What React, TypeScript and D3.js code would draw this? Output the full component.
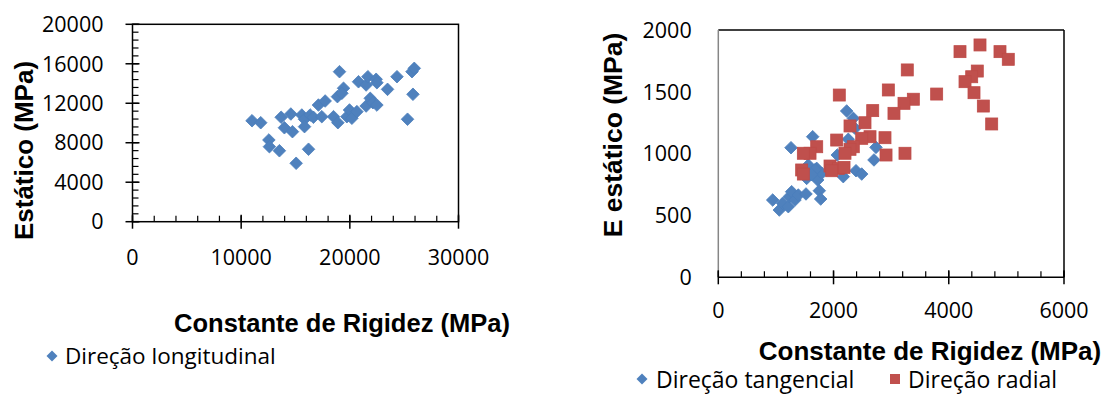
import React from "react";
import * as d3 from "d3";

// Direção longitudinal: [Constante de Rigidez, E estático] (MPa)
const longX = [11000, 11800, 13680, 12550, 12600, 13520, 13980, 14720, 14570, 15060, 15580, 15830, 15830, 16200, 16350, 16650, 17110, 17730, 17420, 18500, 19050, 18860, 19420, 19270, 18900, 19730, 19970, 20190, 20650, 20800, 21500, 21660, 21500, 21880, 22120, 22420, 22490, 22490, 23470, 24340, 25310, 25810, 25720, 25930];
const longY = [10230, 10030, 10580, 8280, 7600, 7190, 9520, 9120, 10910, 5920, 10810, 10380, 9630, 7340, 10810, 10580, 11820, 12230, 10640, 10640, 15200, 12670, 13520, 13010, 10030, 10640, 11320, 10480, 11150, 14180, 13850, 14690, 11720, 12500, 12060, 14430, 14080, 11820, 13410, 14690, 10380, 12910, 15200, 15540];

// Direção tangencial
const tangX = [944, 1059, 1117, 1215, 1232, 1273, 1331, 1389, 1522, 1262, 1638, 1534, 1562, 1708, 1725, 1753, 1777, 1795, 2228, 2343, 2372, 2256, 2065, 2169, 2390, 2489, 2737, 2702, 1680, 1620];
const tangY = [625, 544, 598, 571, 652, 692, 625, 665, 674, 1048, 1137, 800, 908, 881, 787, 700, 633, 841, 1345, 1286, 1205, 1116, 989, 814, 862, 835, 1051, 949, 870, 830];

// Direção radial
const radX = [2100, 4195, 4542, 4889, 5033, 3280, 4495, 4398, 4282, 4438, 4600, 4745, 3790, 2951, 3385, 3223, 3049, 2680, 2546, 2286, 2633, 2489, 2893, 2055, 2343, 2286, 2199, 1708, 1592, 1476, 2911, 3240, 1447, 1476, 1939, 2083, 2182, 1968];
const radY = [1474, 1825, 1879, 1825, 1763, 1677, 1668, 1622, 1582, 1493, 1385, 1240, 1482, 1515, 1440, 1407, 1326, 1348, 1250, 1224, 1137, 1124, 1129, 1110, 1056, 1035, 1003, 1056, 1003, 1003, 989, 1003, 868, 835, 900, 881, 889, 862];

const leftXTicks = [0, 10000, 20000, 30000];
const leftYTicks = [0, 4000, 8000, 12000, 16000, 20000];
const rightXTicks = [0, 2000, 4000, 6000];
const rightYTicks = [0, 500, 1000, 1500, 2000];

const BLUE = "#4F81BD";
const RED = "#C0504D";
const NUM_FONT = "'Open Sans', sans-serif";
const BOLD_FONT = "'Liberation Sans', Arial, sans-serif";

const diamondPath = (cx: number, cy: number, r: number) =>
  `M${cx},${cy - r}L${cx + r},${cy}L${cx},${cy + r}L${cx - r},${cy}Z`;

export default function App() {
  // left panel scales
  const xL = d3.scaleLinear().domain([0, 30000]).range([132.5, 458.5]);
  const yL = d3.scaleLinear().domain([0, 20000]).range([221.7, 24.3]);
  // right panel scales
  const xR = d3.scaleLinear().domain([0, 6000]).range([718.3, 1064]);
  const yR = d3.scaleLinear().domain([0, 2000]).range([277.3, 30]);

  const leftXMinor = d3.range(0, 30001, 2000);
  const leftYMinor = d3.range(0, 20001, 800);
  const rightXMinor = d3.range(0, 6001, 400);

  return (
    <svg
      width={1109}
      height={401}
      style={{ position: "absolute", left: 0, top: 0, background: "#fff" }}
    >
      {/* ---------- left panel ---------- */}
      <g>
        <rect
          x={xL(0)}
          y={yL(20000)}
          width={xL(30000) - xL(0)}
          height={yL(0) - yL(20000)}
          fill="none"
          stroke="#000"
          strokeWidth={1.5}
        />
        {leftYMinor.map((v) => (
          <line key={"lym" + v} x1={xL(0)} x2={xL(0) + 6} y1={yL(v)} y2={yL(v)} stroke="#000" strokeWidth={1.2} />
        ))}
        {leftYTicks.map((v) => (
          <line key={"lyM" + v} x1={xL(0) - 7} x2={xL(0) + 7} y1={yL(v)} y2={yL(v)} stroke="#000" strokeWidth={1.5} />
        ))}
        {leftXMinor.map((v) => (
          <line key={"lxm" + v} x1={xL(v)} x2={xL(v)} y1={yL(0)} y2={yL(0) - 6} stroke="#000" strokeWidth={1.2} />
        ))}
        {leftXTicks.map((v) => (
          <line key={"lxM" + v} x1={xL(v)} x2={xL(v)} y1={yL(0) - 7} y2={yL(0) + 7} stroke="#000" strokeWidth={1.5} />
        ))}
        {leftYTicks.map((v) => (
          <text key={"lyt" + v} x={103.5} y={yL(v)} dy="0.36em" textAnchor="end" fontFamily={NUM_FONT} fontSize={21.5} fill="#000">
            {v}
          </text>
        ))}
        {leftXTicks.map((v) => (
          <text key={"lxt" + v} x={xL(v)} y={265} textAnchor="middle" fontFamily={NUM_FONT} fontSize={21.5} fill="#000">
            {v}
          </text>
        ))}
        {longX.map((x, i) => (
          <path key={"lp" + i} d={diamondPath(xL(x), yL(longY[i]), 6.3)} fill={BLUE} stroke="#4A7EBB" strokeWidth={0.8} />
        ))}
        <text
          transform="translate(33,150.5) rotate(-90)"
          textAnchor="middle"
          fontFamily={BOLD_FONT}
          fontWeight="bold"
          fontSize={26}
          fill="#000"
        >
          Estático (MPa)
        </text>
        <text x={342} y={332} textAnchor="middle" fontFamily={BOLD_FONT} fontWeight="bold" fontSize={25.5} fill="#000">
          Constante de Rigidez (MPa)
        </text>
        <path d={diamondPath(52, 356, 5.5)} fill={BLUE} />
        <text x={65} y={363.5} fontFamily={NUM_FONT} fontSize={22.5} fill="#000">
          Direção longitudinal
        </text>
      </g>

      {/* ---------- right panel ---------- */}
      <g>
        <line x1={xR(0)} x2={xR(6000)} y1={yR(2000)} y2={yR(2000)} stroke="#000" strokeWidth={1.5} />
        <line x1={xR(6000)} x2={xR(6000)} y1={yR(2000)} y2={yR(0)} stroke="#000" strokeWidth={1.5} />
        <line x1={xR(0)} x2={xR(0)} y1={yR(2000)} y2={yR(0)} stroke="#868686" strokeWidth={1.5} />
        <line x1={xR(0)} x2={xR(6000)} y1={yR(0)} y2={yR(0)} stroke="#000" strokeWidth={1.5} />
        {rightXMinor.map((v) => (
          <line key={"rxm" + v} x1={xR(v)} x2={xR(v)} y1={yR(0)} y2={yR(0) - 6} stroke="#000" strokeWidth={1.2} />
        ))}
        {rightXTicks.map((v) => (
          <line key={"rxM" + v} x1={xR(v)} x2={xR(v)} y1={yR(0) - 7} y2={yR(0) + 7} stroke="#000" strokeWidth={1.5} />
        ))}
        {rightYTicks.map((v) => (
          <text key={"ryt" + v} x={691.7} y={yR(v)} dy="0.36em" textAnchor="end" fontFamily={NUM_FONT} fontSize={21.5} fill="#000">
            {v}
          </text>
        ))}
        {rightXTicks.map((v) => (
          <text key={"rxt" + v} x={xR(v)} y={318} textAnchor="middle" fontFamily={NUM_FONT} fontSize={21.5} fill="#000">
            {v}
          </text>
        ))}
        {tangX.map((x, i) => (
          <path key={"tp" + i} d={diamondPath(xR(x), yR(tangY[i]), 6.3)} fill={BLUE} stroke="#4A7EBB" strokeWidth={0.8} />
        ))}
        {radX.map((x, i) => (
          <rect
            key={"rp" + i}
            x={xR(x) - 6}
            y={yR(radY[i]) - 6}
            width={12}
            height={12}
            fill={RED}
            stroke="#BE4B48"
            strokeWidth={0.8}
          />
        ))}
        <text
          transform="translate(622,135) rotate(-90)"
          textAnchor="middle"
          fontFamily={BOLD_FONT}
          fontWeight="bold"
          fontSize={26.5}
          fill="#000"
        >
          E estático (MPa)
        </text>
        <text x={930} y={360} textAnchor="middle" fontFamily={BOLD_FONT} fontWeight="bold" fontSize={26} fill="#000">
          Constante de Rigidez (MPa)
        </text>
        <path d={diamondPath(642, 379, 5.5)} fill={BLUE} />
        <text x={656} y={388} fontFamily={NUM_FONT} fontSize={23} fill="#000">
          Direção tangencial
        </text>
        <rect x={890} y={374} width={10} height={10} fill={RED} />
        <text x={908} y={388} fontFamily={NUM_FONT} fontSize={23} fill="#000">
          Direção radial
        </text>
      </g>
    </svg>
  );
}
